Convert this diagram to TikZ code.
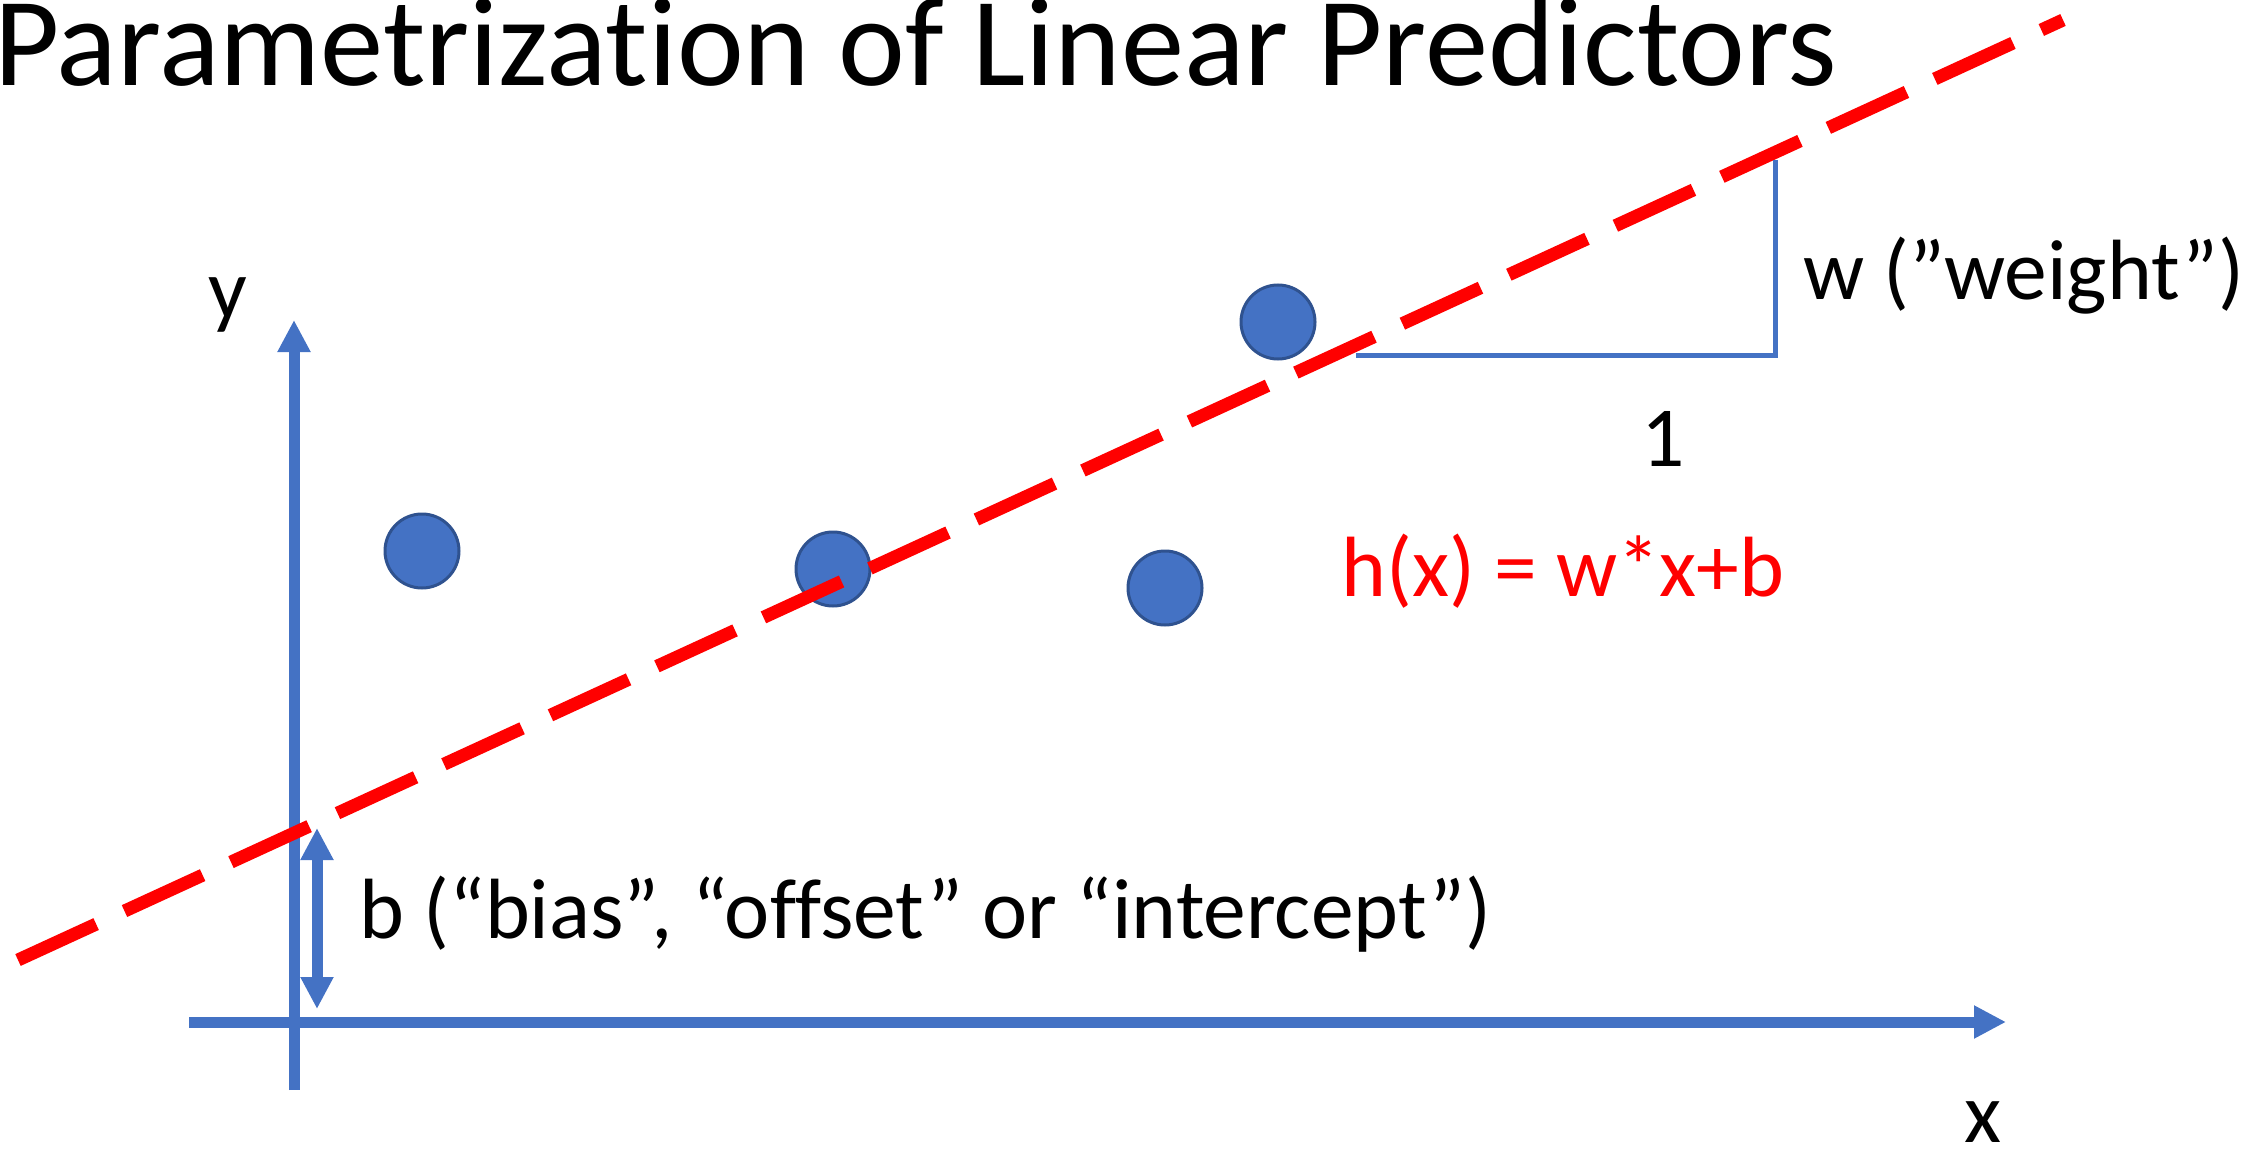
\documentclass[tikz,border=0pt]{standalone}
\usepackage{fontspec}
\setmainfont{Carlito}[Ligatures=NoCommon]
\usetikzlibrary{arrows.meta}
\definecolor{cblue}{HTML}{4472C4}
\definecolor{cdark}{HTML}{2F528F}
\definecolor{cred}{HTML}{FF0000}
\tikzset{
  axis/.style={draw=cblue, line width=11pt, -{Triangle[length=32pt, width=31pt]}},
  dot/.style={circle, draw=cdark, fill=cblue, line width=3pt, minimum size=74pt, inner sep=0pt},
  fitline/.style={draw=cred, line width=13pt, dash pattern=on 86pt off 31.2pt},
  slope/.style={draw=cblue, line width=5pt},
  txt/.style={font=\fontsize{85.5}{100}\selectfont, inner sep=0pt},
  heading/.style={font=\fontsize{126.5}{150}\selectfont, inner sep=0pt},
}

\begin{document}
\begin{tikzpicture}[x=1pt, y=-1pt]
  \useasboundingbox (0,0) rectangle (2248,1150);
  % title
  \node[heading, anchor=base west] (title) at (-6,86) {Parametrization of Linear Predictors};
  % axes
  \coordinate (xstart) at (189,1022);
  \coordinate (xend) at (2006,1022);
  \coordinate (ystart) at (294,1090);
  \coordinate (yend) at (294,320);
  \draw[axis] (xstart) -- (xend);
  \draw[axis] (ystart) -- (yend);
  \node[txt, anchor=base] (xlab) at (1983,1142) {x};
  \node[txt, anchor=base] (ylab) at (228,318) {y};
  % data points
  \foreach \x/\y [count=\i] in {422/551, 833/569, 1165/588, 1278/322}
    \node[dot] (pt\i) at (\x,\y) {};
  % fitted line
  \coordinate (hstart) at (18,960);
  \coordinate (hend) at (2063,20);
  \draw[fitline] (hstart) -- (hend);
  \node[txt, text=cred, anchor=base west] (hlab) at (1341,596) {h(x) = w*x+b};
  % slope triangle
  \coordinate (ta) at (1356,355);
  \coordinate (tb) at (1775,355);
  \coordinate (tc) at (1775,160);
  \draw[slope] (ta) -- (tb) -- (tc);
  \node[txt, anchor=base] (one) at (1663,466) {1};
  \node[txt, anchor=base west] (wlab) at (1803,299) {w (”weight”)};
  % bias
  \coordinate (btop) at (317,828);
  \coordinate (bbot) at (317,1009);
  \draw[axis, {Triangle[length=32pt, width=31pt]}-{Triangle[length=32pt, width=31pt]}] (btop) -- (bbot);
  \node[txt, anchor=base west] (blab) at (359,938) {b (“bias”, “offset” or “intercept”)};
\end{tikzpicture}
\end{document}
